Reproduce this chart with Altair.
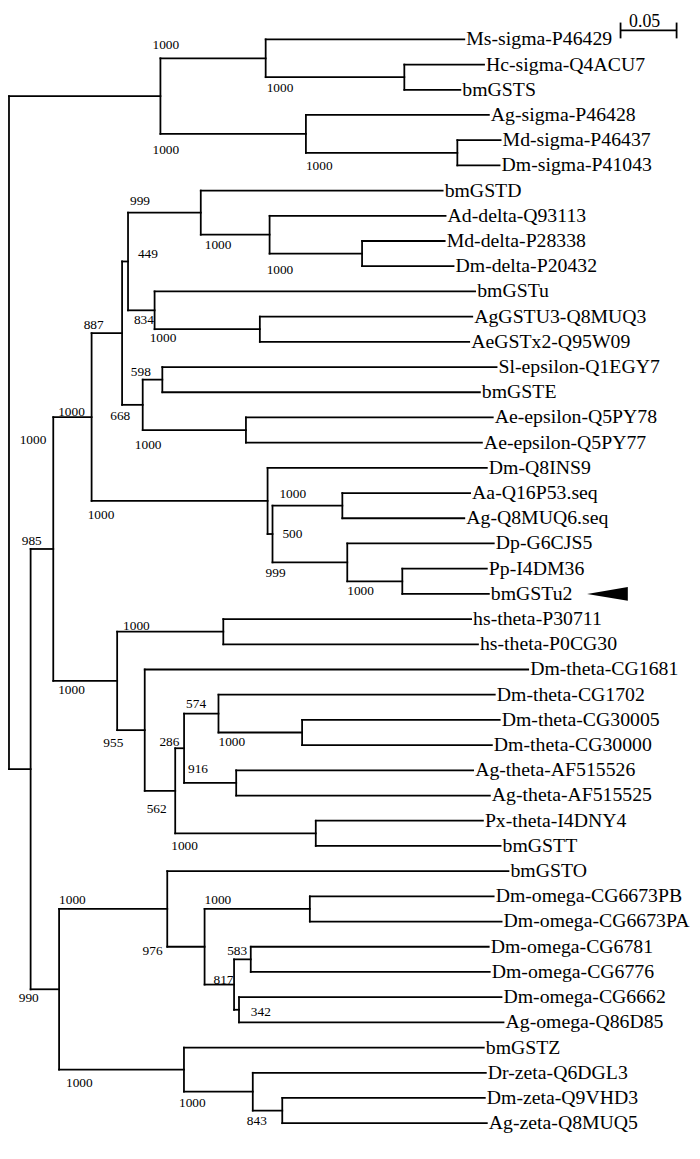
import altair as alt
import pandas as pd

# ---------------- data: tree in pre-order ----------------
node = [
    "root",
    "S", "S1", "Ms-sigma-P46429", "S1a", "Hc-sigma-Q4ACU7", "bmGSTS",
    "S2", "Ag-sigma-P46428", "S2a", "Md-sigma-P46437", "Dm-sigma-P41043",
    "R", "A", "B", "C", "D", "E", "bmGSTD", "F", "Ad-delta-Q93113", "G",
    "Md-delta-P28338", "Dm-delta-P20432",
    "H", "bmGSTu", "I", "AgGSTU3-Q8MUQ3", "AeGSTx2-Q95W09",
    "J", "K", "Sl-epsilon-Q1EGY7", "bmGSTE", "L", "Ae-epsilon-Q5PY78", "Ae-epsilon-Q5PY77",
    "M", "Dm-Q8INS9", "N", "O", "Aa-Q16P53.seq", "Ag-Q8MUQ6.seq",
    "P", "Dp-G6CJS5", "Q", "Pp-I4DM36", "bmGSTu2",
    "T", "U", "hs-theta-P30711", "hs-theta-P0CG30",
    "V", "Dm-theta-CG1681", "W", "X", "Y", "Dm-theta-CG1702", "Z",
    "Dm-theta-CG30005", "Dm-theta-CG30000",
    "AA", "Ag-theta-AF515526", "Ag-theta-AF515525",
    "AB", "Px-theta-I4DNY4", "bmGSTT",
    "OZ", "OM", "bmGSTO", "OM1", "OM2", "Dm-omega-CG6673PB", "Dm-omega-CG6673PA",
    "OM3", "OM4", "Dm-omega-CG6781", "Dm-omega-CG6776",
    "OM5", "Dm-omega-CG6662", "Ag-omega-Q86D85",
    "ZE", "bmGSTZ", "ZE1", "Dr-zeta-Q6DGL3", "ZE2", "Dm-zeta-Q9VHD3", "Ag-zeta-Q8MUQ5",
]
parent = [
    None,
    "root", "S", "S1", "S1", "S1a", "S1a",
    "S", "S2", "S2", "S2a", "S2a",
    "root", "R", "A", "B", "C", "D", "E", "E", "F", "F",
    "G", "G",
    "D", "H", "H", "I", "I",
    "C", "J", "K", "K", "J", "L", "L",
    "B", "M", "M", "N", "O", "O",
    "N", "P", "P", "Q", "Q",
    "A", "T", "U", "U",
    "T", "V", "V", "W", "X", "Y", "Y",
    "Z", "Z",
    "X", "AA", "AA",
    "W", "AB", "AB",
    "R", "OZ", "OM", "OM", "OM1", "OM2", "OM2",
    "OM1", "OM3", "OM4", "OM4",
    "OM3", "OM5", "OM5",
    "OZ", "ZE", "ZE", "ZE1", "ZE1", "ZE2", "ZE2",
]
branch_length = [
    0.0,
    0.1351, 0.0939, 0.1772, 0.1237, 0.0711, 0.0500,
    0.1298, 0.1632, 0.1351, 0.0386, 0.0377,
    0.0193, 0.0202, 0.0342, 0.0272, 0.0053, 0.0649, 0.2158, 0.0614, 0.1570, 0.0825,
    0.0737, 0.0816,
    0.0237, 0.2860, 0.0939, 0.1895, 0.1868,
    0.0184, 0.0175, 0.2982, 0.2833, 0.0921, 0.2202, 0.2105,
    0.1570, 0.1956, 0.0044, 0.0623, 0.1140, 0.1088,
    0.0667, 0.1307, 0.0491, 0.0754, 0.0772,
    0.0570, 0.0947, 0.2211, 0.2272,
    0.0246, 0.3421, 0.0272, 0.0079, 0.0307, 0.2465, 0.0746,
    0.1763, 0.1693,
    0.0465, 0.2114, 0.2263,
    0.1254, 0.1491, 0.1649,
    0.0254, 0.0965, 0.3044, 0.0333, 0.0939, 0.1640, 0.1711,
    0.0263, 0.0149, 0.2123, 0.2132,
    0.0044, 0.2342, 0.2360,
    0.1114, 0.2675, 0.0614, 0.2079, 0.0263, 0.1807, 0.1825,
]
bootstrap = [
    None,
    None, 1000, None, 1000, None, None,
    1000, None, 1000, None, None,
    None, 985, 1000, 887, 449, 999, None, 1000, None, 1000,
    None, None,
    834, None, 1000, None, None,
    668, 598, None, None, 1000, None, None,
    1000, None, 500, 1000, None, None,
    999, None, 1000, None, None,
    1000, 1000, None, None,
    955, None, 562, 286, 574, None, 1000,
    None, None,
    916, None, None,
    1000, None, None,
    990, 1000, None, 976, 1000, None, None,
    817, 583, None, None,
    342, None, None,
    1000, None, 1000, None, 843, None, None,
]
extra_label_node = ["B"]
extra_label_value = [1000]
scale_bar_length = 0.05
marked_leaf = "bmGSTu2"

# ---------------- layout (pixels / styling) ----------------
W, H = 692, 1151
PX_PER_UNIT = 1134.0
X0_PX = 1.0
ROW_PX = 25.5
Y0_PX = 25.0
FONT = "Liberation Serif"

# label offsets (dx, dy in px) relative to (parent x, branch y)
LABEL_OFF = {
    "S1": (-8, -9), "S1a": (1, 15), "S2": (-8, 20), "S2a": (0, 17),
    "A": (-9, -4), "B": (5, -1), "C": (-8, -4), "D": (16, -4), "E": (2, -8),
    "F": (4, 14), "G": (-3, 21), "H": (6, 14), "I": (-5, 13), "J": (-12, 15),
    "K": (-12, -4), "L": (-8, 19), "M": (-4, 18), "N": (15, 4), "O": (7, -8),
    "P": (-7, 15), "Q": (0, 14), "T": (5, 13), "U": (6, -2), "V": (-14, 17),
    "W": (2, 22), "X": (-16, -2), "Y": (2, -6), "Z": (0, 14), "AA": (4, -10),
    "AB": (-4, 17), "OZ": (-12, 13), "OM": (0, -5), "OM1": (-25, 8),
    "OM2": (0, -5), "OM3": (9, -1), "OM4": (-7, -4), "OM5": (17, 6),
    "ZE": (7, 18), "ZE1": (-5, 15), "ZE2": (-6, 15),
}
EXTRA_OFF = (-34, 27)
SB_X0 = 0.5456
SB_Y_PX = 16
ARROW_OFFSET_PX = 120

# ---------------- build geometry ----------------
children = {n: [] for n in node}
for n, p in zip(node, parent):
    if p is not None:
        children[p].append(n)
bl = dict(zip(node, branch_length))
par = dict(zip(node, parent))
boot = dict(zip(node, bootstrap))

xpos = {}
for n, p in zip(node, parent):
    xpos[n] = 0.0 if p is None else xpos[p] + bl[n]
leaves = [n for n in node if not children[n]]
ypos = {n: float(i) for i, n in enumerate(leaves)}
for n in reversed(node):
    if children[n]:
        ypos[n] = (ypos[children[n][0]] + ypos[children[n][-1]]) / 2.0

seg = []
for n in node:
    p = par[n]
    if p is not None:
        seg.append(dict(x=xpos[p], x2=xpos[n], y=ypos[n], y2=ypos[n]))
    if children[n]:
        seg.append(dict(x=xpos[n], x2=xpos[n],
                        y=ypos[children[n][0]], y2=ypos[children[n][-1]]))
seg_df = pd.DataFrame(seg)

leaf_df = pd.DataFrame({"name": leaves,
                        "x": [xpos[n] for n in leaves],
                        "y": [ypos[n] for n in leaves]})

lab = []
for n in node:
    if boot[n] is not None:
        dx, dy = LABEL_OFF.get(n, (-4, -4))
        lab.append(dict(text=str(boot[n]),
                        x=xpos[par[n]] + dx / PX_PER_UNIT,
                        y=ypos[n] + dy / ROW_PX))
for n, v in zip(extra_label_node, extra_label_value):
    lab.append(dict(text=str(v),
                    x=xpos[par[n]] + EXTRA_OFF[0] / PX_PER_UNIT,
                    y=ypos[n] + EXTRA_OFF[1] / ROW_PX))
lab_df = pd.DataFrame(lab)

sb_y = (SB_Y_PX - Y0_PX) / ROW_PX
tick = 8 / ROW_PX
sb_df = pd.DataFrame([
    dict(x=SB_X0, x2=SB_X0 + scale_bar_length, y=sb_y, y2=sb_y),
    dict(x=SB_X0, x2=SB_X0, y=sb_y - tick, y2=sb_y + tick),
    dict(x=SB_X0 + scale_bar_length, x2=SB_X0 + scale_bar_length, y=sb_y - tick, y2=sb_y + tick),
])
sb_txt_df = pd.DataFrame([dict(x=SB_X0 + scale_bar_length / 2, y=sb_y, text=str(scale_bar_length))])

arrow_df = pd.DataFrame([dict(x=xpos[marked_leaf] + ARROW_OFFSET_PX / PX_PER_UNIT,
                              y=ypos[marked_leaf])])

xs = alt.Scale(domain=[-X0_PX / PX_PER_UNIT, (W - X0_PX) / PX_PER_UNIT], nice=False, zero=False)
ys = alt.Scale(domain=[-Y0_PX / ROW_PX, (H - Y0_PX) / ROW_PX], nice=False, zero=False, reverse=True)

def X(f):
    return alt.X(f, type="quantitative", scale=xs, axis=None)

def Y(f):
    return alt.Y(f, type="quantitative", scale=ys, axis=None)

branches = alt.Chart(seg_df).mark_rule(color="black", strokeWidth=1.8, strokeCap="square").encode(
    x=X("x"), x2="x2", y=Y("y"), y2="y2")

leaf_text = alt.Chart(leaf_df).mark_text(
    align="left", baseline="middle", dx=2, font=FONT, fontSize=20, color="black"
).encode(x=X("x"), y=Y("y"), text="name:N")

boot_text = alt.Chart(lab_df).mark_text(
    align="left", baseline="alphabetic", font=FONT, fontSize=13.5, color="black"
).encode(x=X("x"), y=Y("y"), text="text:N")

scale_bar = alt.Chart(sb_df).mark_rule(color="black", strokeWidth=1.8).encode(
    x=X("x"), x2="x2", y=Y("y"), y2="y2")

scale_text = alt.Chart(sb_txt_df).mark_text(
    align="center", baseline="alphabetic", dy=-4, dx=-4, font=FONT, fontSize=18, color="black"
).encode(x=X("x"), y=Y("y"), text="text:N")

arrow = alt.Chart(arrow_df).mark_point(
    shape="M -1 0 L 1 -0.333 L 1 0.333 Z", size=1700, filled=True, color="black", opacity=1,
    strokeWidth=0
).encode(x=X("x"), y=Y("y"))

chart = alt.layer(branches, leaf_text, boot_text, scale_bar, scale_text, arrow).properties(
    width=W, height=H, padding=0, background="white",
    autosize=alt.AutoSizeParams(type="none"),
).configure_view(stroke=None)

chart.save("out.html", embed_options={"renderer": "svg", "actions": False})
